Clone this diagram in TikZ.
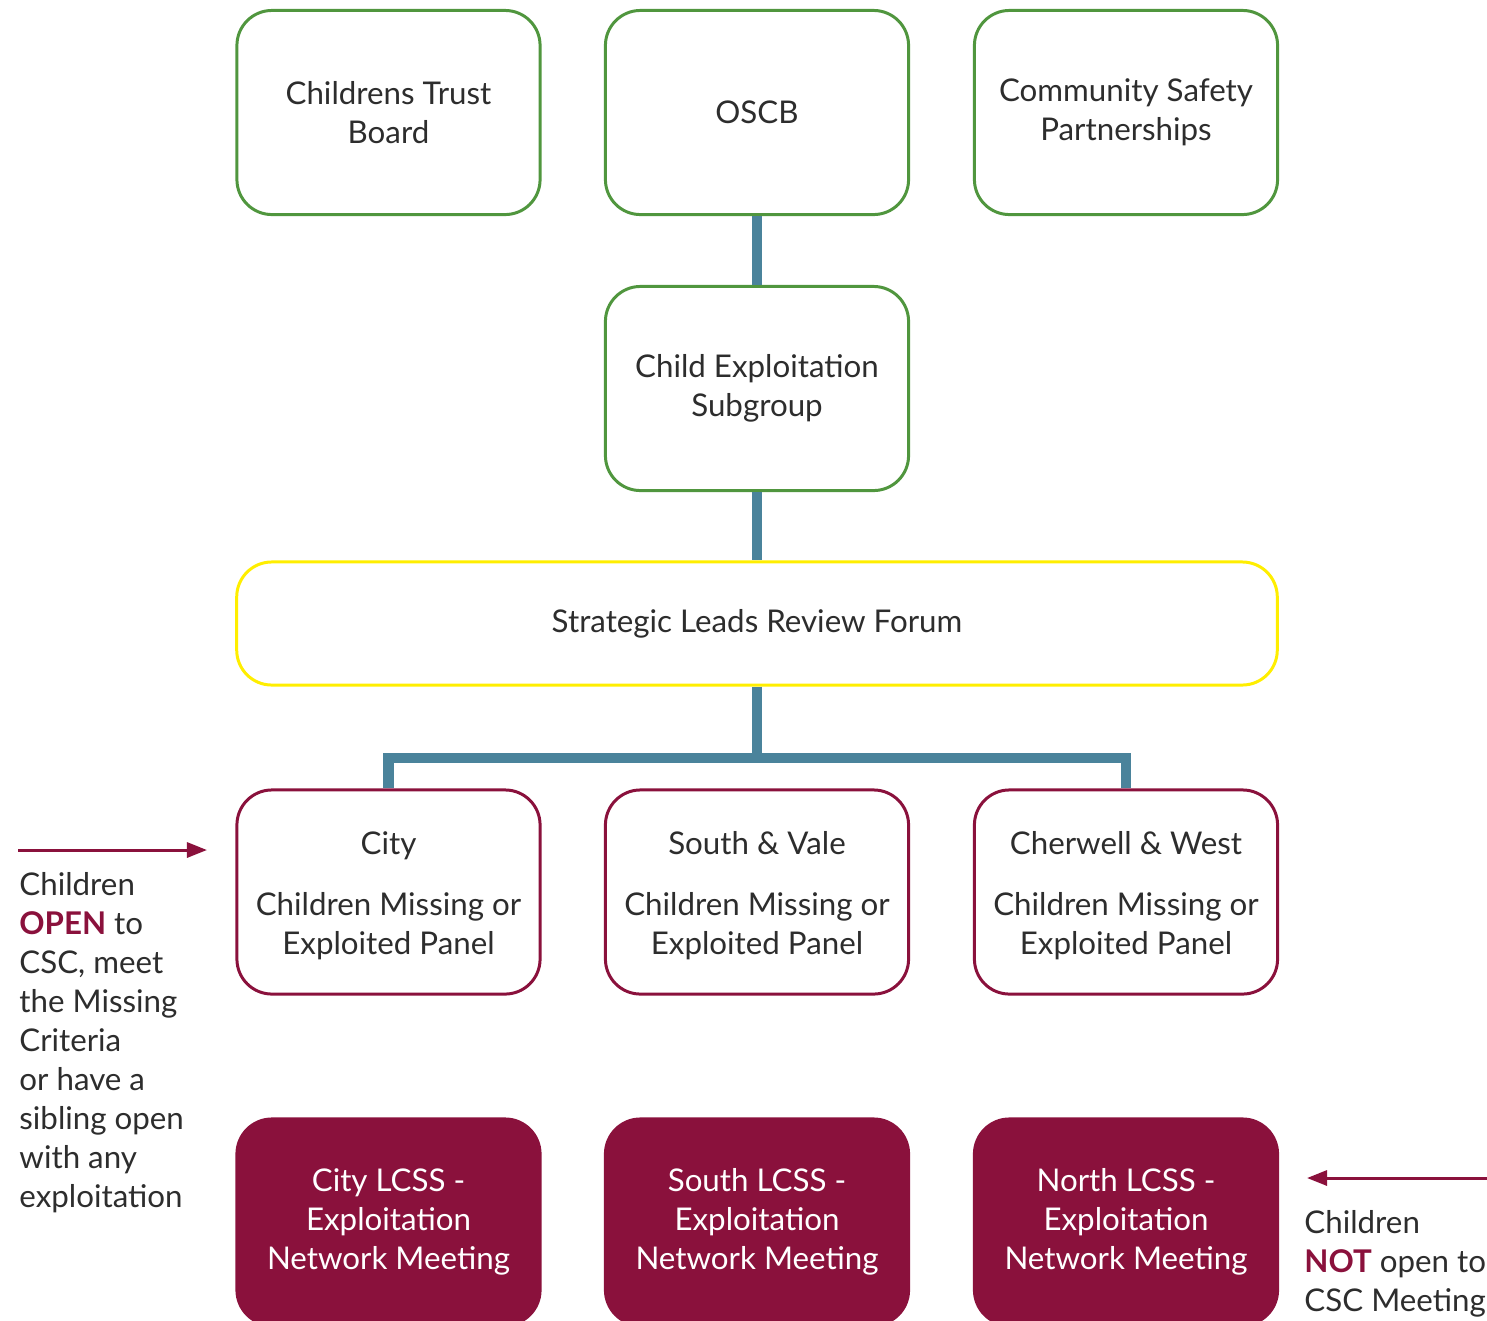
\documentclass[tikz,border=0pt]{standalone}
\usepackage{fontspec}
\setmainfont{Lato}
\usetikzlibrary{arrows.meta}

\definecolor{boardgreen}{RGB}{80,150,62}
\definecolor{panelred}{RGB}{138,17,60}
\definecolor{linkblue}{RGB}{74,131,155}
\definecolor{forumyellow}{RGB}{255,238,0}
\definecolor{textgray}{RGB}{45,45,45}

\begin{document}
\begin{tikzpicture}[x=0.01cm,y=-0.01cm,
  every node/.style={font=\fontsize{8.9}{11.1}\selectfont,text=textgray,align=center},
  box/.style={draw,rounded corners=0.35cm,line width=0.85pt,fill=white,
    minimum width=3.03cm,minimum height=2.04cm,inner sep=0pt},
  board/.style={box,draw=boardgreen},
  panel/.style={box,draw=panelred},
  meeting/.style={box,draw=panelred,fill=panelred,text=white,minimum height=2.06cm},
  link/.style={draw=linkblue,line width=2.85pt},
  pointer/.style={draw=panelred,line width=0.85pt,-{Triangle[length=0.2cm,width=0.15cm]}}]

\useasboundingbox (0,0) rectangle (1487,1320);
\clip (0,0) rectangle (1487,1320);

% top row
\node[board] (trust) at (388.5,112.5) {Childrens Trust\\Board};
\node[board] (oscb) at (757,112.5) {OSCB};
\node[board] (safety) at (1126,112.5) {Community Safety\\Partnerships};

\node[board] (subgroup) at (757,388.5) {Child Exploitation\\Subgroup};

\node[box,draw=forumyellow,minimum width=10.4cm,minimum height=1.23cm] (forum) at (757,623.5) {Strategic Leads Review Forum};

% panels
\node[panel] (city) at (388.5,892) {\\[-0.08cm]City\\[0.22cm]Children Missing or\\Exploited Panel};
\node[panel] (south) at (757,892) {\\[-0.08cm]South \& Vale\\[0.22cm]Children Missing or\\Exploited Panel};
\node[panel] (west) at (1126,892) {\\[-0.08cm]Cherwell \& West\\[0.22cm]Children Missing or\\Exploited Panel};

% network meetings
\node[meeting] (citylcss) at (388.5,1222) {City LCSS -\\Exploitation\\Network Meeting};
\node[meeting] (southlcss) at (757,1222) {South LCSS -\\Exploitation\\Network Meeting};
\node[meeting] (northlcss) at (1126,1222) {North LCSS -\\Exploitation\\Network Meeting};

\coordinate (split) at (757,758);

\path[link] (oscb) -- (subgroup);
\path[link] (subgroup) -- (forum);
\path[link] (forum) -- (split);
\path[link] (split) -| (city);
\path[link] (split) -| (west);

% side notes
\coordinate (openfrom) at (18,850);
\coordinate (opento) at (207,850);
\path[pointer] (openfrom) -- (opento);
\node[anchor=north west,align=left] (opennote) at (7,860) {Children\\{\bfseries\color{panelred}OPEN} to\\CSC, meet\\the Missing\\Criteria\\or have a\\sibling open\\with any\\exploitation};

\coordinate (notfrom) at (1487,1178);
\coordinate (notto) at (1307,1178);
\path[pointer] (notfrom) -- (notto);
\node[anchor=north west,align=left] (notnote) at (1292,1198) {Children\\{\bfseries\color{panelred}NOT} open to\\CSC Meeting};

\end{tikzpicture}
\end{document}
